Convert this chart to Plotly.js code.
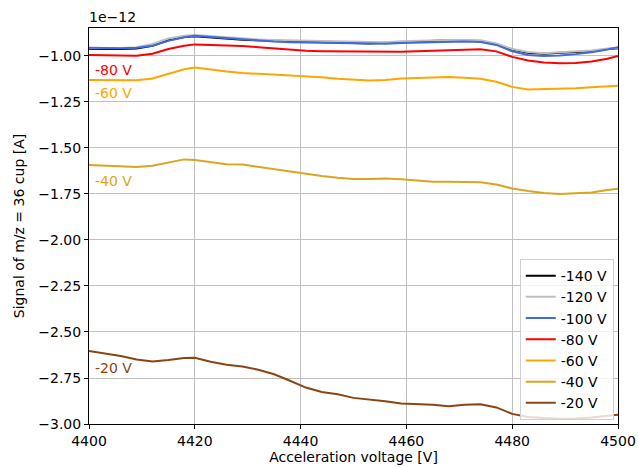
<!DOCTYPE html>
<html>
<head>
<meta charset="utf-8">
<script src="https://cdn.plot.ly/plotly-3.0.1.min.js"></script>
<style>html,body{margin:0;padding:0;background:#fff;}#chart{width:638px;height:467px;}</style>
</head>
<body>
<div id="chart"></div>
<script>
const voltage = [4400,4403,4406,4409,4412,4415,4418,4420,4423,4426,4429,4432,4435,4438,4441,4444,4447,4450,4453,4456,4459,4462,4465,4468,4471,4474,4477,4480,4483,4486,4489,4492,4495,4498,4500];

const sig140 = [-0.962,-0.963,-0.962,-0.960,-0.945,-0.915,-0.897,-0.893,-0.900,-0.907,-0.912,-0.915,-0.917,-0.920,-0.922,-0.925,-0.928,-0.930,-0.932,-0.928,-0.924,-0.920,-0.917,-0.915,-0.916,-0.918,-0.935,-0.965,-0.982,-0.988,-0.983,-0.980,-0.975,-0.962,-0.958];
const sig120 = [-0.958,-0.958,-0.957,-0.952,-0.935,-0.905,-0.890,-0.886,-0.893,-0.900,-0.905,-0.910,-0.913,-0.915,-0.918,-0.920,-0.922,-0.925,-0.927,-0.925,-0.920,-0.917,-0.915,-0.913,-0.913,-0.915,-0.932,-0.962,-0.978,-0.985,-0.980,-0.975,-0.970,-0.960,-0.955];
const sig100 = [-0.955,-0.957,-0.958,-0.955,-0.945,-0.918,-0.898,-0.890,-0.897,-0.905,-0.912,-0.918,-0.922,-0.925,-0.927,-0.930,-0.932,-0.933,-0.935,-0.934,-0.930,-0.927,-0.925,-0.923,-0.922,-0.924,-0.940,-0.975,-0.995,-1.000,-0.998,-0.990,-0.980,-0.965,-0.953];
const sig80 = [-0.995,-0.996,-0.997,-0.999,-0.988,-0.962,-0.944,-0.937,-0.940,-0.942,-0.946,-0.952,-0.960,-0.967,-0.972,-0.974,-0.975,-0.975,-0.976,-0.976,-0.977,-0.975,-0.972,-0.968,-0.965,-0.964,-0.975,-1.005,-1.025,-1.035,-1.040,-1.038,-1.030,-1.015,-1.000];
const sig60 = [-1.130,-1.131,-1.133,-1.132,-1.122,-1.098,-1.072,-1.063,-1.075,-1.085,-1.092,-1.097,-1.100,-1.103,-1.108,-1.116,-1.124,-1.129,-1.133,-1.131,-1.123,-1.120,-1.116,-1.114,-1.118,-1.124,-1.140,-1.168,-1.182,-1.181,-1.180,-1.175,-1.170,-1.165,-1.162];
const sig40 = [-1.593,-1.597,-1.602,-1.604,-1.596,-1.578,-1.562,-1.565,-1.578,-1.588,-1.590,-1.603,-1.612,-1.625,-1.640,-1.652,-1.662,-1.669,-1.668,-1.666,-1.670,-1.676,-1.684,-1.684,-1.686,-1.686,-1.698,-1.720,-1.734,-1.745,-1.750,-1.748,-1.742,-1.728,-1.722];
const sig20 = [-2.603,-2.617,-2.630,-2.650,-2.660,-2.652,-2.642,-2.640,-2.662,-2.678,-2.688,-2.705,-2.730,-2.765,-2.802,-2.826,-2.838,-2.858,-2.865,-2.876,-2.888,-2.890,-2.895,-2.903,-2.895,-2.893,-2.910,-2.945,-2.962,-2.968,-2.972,-2.970,-2.965,-2.955,-2.950];

const seriesNames = ["-140 V","-120 V","-100 V","-80 V","-60 V","-40 V","-20 V"];
const seriesColors = ["#000000","#bfbfbf","#4169e1","#ff0000","#ffa500","#daa520","#8b4513"];
const seriesData = [sig140, sig120, sig100, sig80, sig60, sig40, sig20];

const labelTexts = ["-80 V","-60 V","-40 V","-20 V"];
const labelY = [-1.075, -1.2, -1.68, -2.695];
const labelColors = ["#ff0000","#ffa500","#daa520","#8b4513"];

const traces = seriesData.map((d, i) => ({
  x: voltage, y: d, type: "scatter", mode: "lines", name: seriesNames[i],
  line: {color: seriesColors[i], width: 2}
}));

const font = {family: "DejaVu Sans", size: 14, color: "#000"};
const annotations = labelTexts.map((t, i) => ({
  x: 4400.7, y: labelY[i], xref: "x", yref: "y", text: t, showarrow: false,
  xanchor: "left", yanchor: "middle", font: {family: "DejaVu Sans", size: 14, color: labelColors[i]}
}));
annotations.push({x: 0, y: 1, xref: "paper", yref: "paper", text: "1e\u221212", showarrow: false,
  xanchor: "left", yanchor: "bottom", xshift: -2, yshift: 1, font: font});

const layout = {
  width: 638, height: 467,
  margin: {l: 89, r: 20, t: 28, b: 43},
  paper_bgcolor: "#fff", plot_bgcolor: "#fff",
  font: font,
  showlegend: true,
  legend: {x: 0.992, y: 0.01, xanchor: "right", yanchor: "bottom", bgcolor: "rgba(255,255,255,0.8)",
    bordercolor: "#d0d0d0", borderwidth: 1, font: font, tracegroupgap: 0, itemwidth: 30},
  xaxis: {range: [4400, 4500], tick0: 4400, dtick: 20, ticks: "outside", ticklen: 4, tickcolor: "#000",
    showline: true, linecolor: "#000", linewidth: 1, mirror: true, showgrid: true, gridcolor: "#c0c0c0", gridwidth: 1,
    zeroline: false, title: {text: "Acceleration voltage [V]", font: font, standoff: 3}},
  yaxis: {range: [-3.0, -0.848], tick0: -3, dtick: 0.25, tickformat: ".2f", ticks: "outside", ticklen: 4, tickcolor: "#000",
    showline: true, linecolor: "#000", linewidth: 1, mirror: true, showgrid: true, gridcolor: "#c0c0c0", gridwidth: 1,
    zeroline: false, title: {text: "Signal of m/z = 36 cup [A]", font: font, standoff: 10}},
  annotations: annotations
};

Plotly.newPlot("chart", traces, layout, {displayModeBar: false, staticPlot: true});
</script>
</body>
</html>
